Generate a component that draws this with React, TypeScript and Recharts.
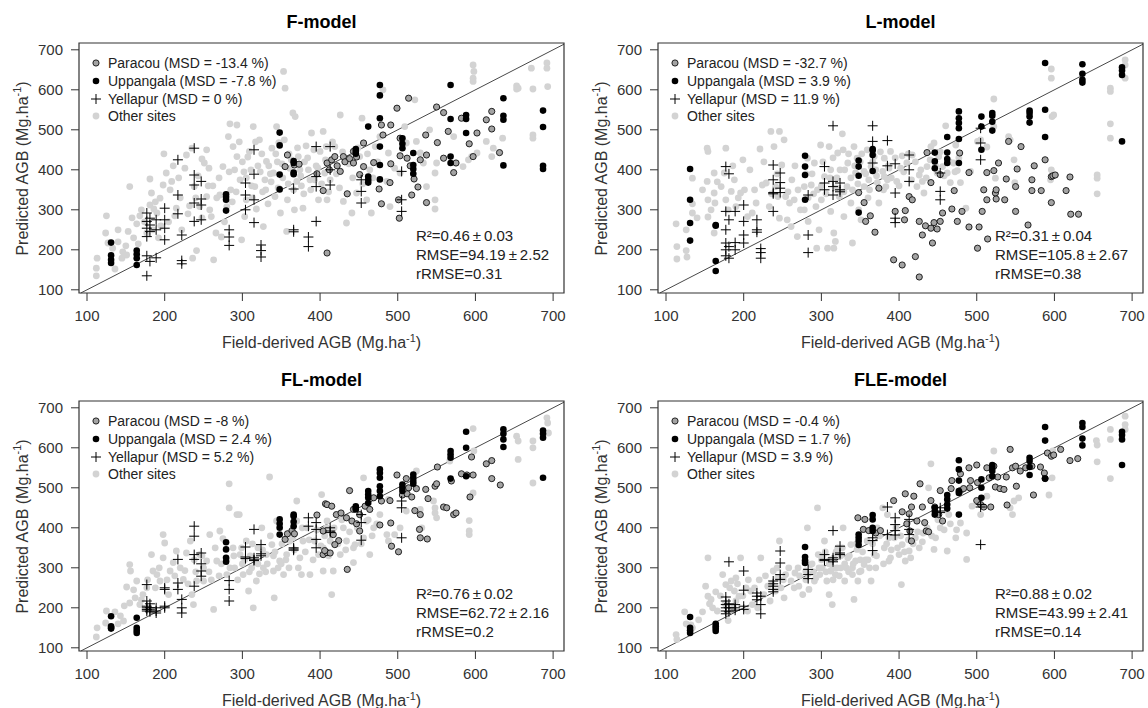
import { ScatterChart, Scatter, XAxis, YAxis, ReferenceLine, ReferenceArea } from "recharts";

const FONT = '"Liberation Sans", Arial, Helvetica, sans-serif';
const X_DOMAIN: [number, number] = [89.7, 714];
const Y_DOMAIN: [number, number] = [92, 717];
const TICKS = [100, 200, 300, 400, 500, 600, 700];

const titles = ["F-model", "L-model", "FL-model", "FLE-model"];
const paracouMsd = ["-13.4", "-32.7", "-8", "-0.4"];
const uppangalaMsd = ["-7.8", "3.9", "2.4", "1.7"];
const yellapurMsd = ["0", "11.9", "5.2", "3.9"];
const r2 = ["0.46", "0.31", "0.76", "0.88"];
const r2Sd = ["0.03", "0.04", "0.02", "0.02"];
const rmse = ["94.19", "105.8", "62.72", "43.99"];
const rmseSd = ["2.52", "2.67", "2.16", "2.41"];
const rrmse = ["0.31", "0.38", "0.2", "0.14"];

// Uppangala plots: field AGB (shared) and predicted AGB per model
const uppX = [131,131,131,131, 164,164,164,164, 279,279,279,279, 348,348,348,348, 366,366,366,366, 446,446,446, 462,462,462,462, 477,477,477,477,477,477, 506,506,506, 520,520,520,520, 568,568,568,568, 588,588,588, 636,636,636,636, 687,687,687,687];
const uppF = [218,186,175,167, 198,189,179,162, 339,332,325,298, 493,461,388,351, 422,417,393,389, 452,446,440, 508,383,375,368, 612,586,529,458,412,376, 479,465,454, 442,412,402,390, 612,527,433,417, 537,527,492, 579,535,525,411, 548,507,410,402];
const uppL = [402,325,267,223, 262,260,172,147, 435,408,387,325, 423,408,385,293, 452,448,437,397, 443,421,404, 482,443,427,417, 546,529,517,504,477,417, 533,508,450, 542,535,520,498, 548,542,533,518, 667,550,482, 664,640,625,618, 656,648,637,471];
const uppFL = [179,154,150,148, 175,150,143,137, 364,346,325,315, 421,410,400,383, 433,429,415,404, 454,450,446, 492,483,475,462, 546,537,525,504,492,479, 508,500,492, 533,525,517,510, 592,583,575,523, 640,600,529, 646,635,621,602, 643,635,625,525];
const uppFLE = [177,150,143,137, 160,154,148,142, 352,327,318,312, 383,375,367,357, 432,421,400,392, 450,442,433, 482,471,458,448, 569,546,518,492,487,433, 521,500,475, 557,550,542,529, 575,567,552,532, 652,618,523, 662,652,623,606, 640,632,621,557];

// Yellapur plots
const yelX = [177,177,177,177,177,177, 181,181,181,181, 189,189,189, 200,200,200,200, 217,217,217, 222,222,222, 238,238,238,238,238, 247,247,247,247, 283,283,283, 304,304,304, 315,315,315,315, 324,324,324, 366,366,366, 385,385, 395,395,395,395, 413,413,413, 453,453,453, 505,505,505];
const yelF = [292,271,254,233,185,135, 279,262,246,171, 275,250,180, 304,275,254,225, 425,337,290, 237,173,165, 454,387,362,317,271, 371,327,312,275, 250,232,211, 367,337,300, 450,389,325,268, 212,198,182, 352,250,245, 232,208, 458,383,358,271, 458,400,362, 375,346,317, 396,325,296];
const yelL = [408,296,250,217,200,185, 390,275,208,179, 296,218,200, 312,271,237,217, 275,250,244, 203,193,179, 412,375,343,340,296, 392,368,354,343, 337,237,193, 408,367,350, 510,371,358,337, 367,350,345, 510,471,417, 473,410, 415,342,279,268, 437,400,371, 392,346,325, 504,467,425];
const yelFL = [258,217,204,200,196,192, 210,200,195,190, 200,192,187, 250,246,204,200, 321,262,246, 221,200,187, 404,379,333,321,254, 337,310,292,279, 268,246,217, 352,327,323, 396,325,318,320, 358,335,330, 350,344,347, 425,404, 413,396,371,350, 400,392,388, 433,413,369, 467,450,375];
const yelFLE = [227,217,208,200,192,185, 315,210,200,190, 208,200,194, 292,244,204,196, 237,229,220, 229,208,185, 267,260,254,246,240, 342,312,283,271, 296,283,273, 333,321,318, 393,325,320,315, 354,337,333, 375,368,343, 452,383, 425,408,393,382, 421,396,383, 450,442,438, 458,452,358];

// Paracou plots [field, predicted]
const parF = [[355,408],[358,437],[367,412],[373,414],[396,390],[404,348],[409,417],[409,192],[412,400],[415,425],[419,433],[422,410],[426,396],[430,433],[432,420],[435,340],[438,428],[443,446],[443,417],[447,432],[451,388],[456,408],[456,467],[469,418],[476,352],[479,512],[479,315],[481,487],[490,368],[491,512],[491,415],[499,554],[501,325],[502,279],[503,479],[503,435],[512,429],[514,579],[516,410],[518,337],[521,377],[526,357],[529,425],[536,487],[537,437],[537,318],[550,557],[551,468],[559,543],[559,429],[565,496],[572,393],[575,417],[582,529],[592,465],[597,433],[602,492],[614,525],[621,546],[621,502],[631,443]];
const parL = [[348,343],[355,318],[357,271],[363,285],[369,244],[374,354],[393,175],[395,296],[404,162],[407,275],[408,298],[413,333],[417,325],[421,183],[426,132],[426,271],[430,237],[434,260],[436,443],[441,254],[441,368],[443,217],[445,268],[449,252],[453,271],[453,388],[456,292],[468,302],[471,348],[475,271],[478,442],[481,296],[490,393],[490,257],[501,204],[503,257],[507,296],[509,350],[513,393],[513,325],[514,227],[522,398],[524,342],[525,350],[525,327],[528,417],[536,325],[538,377],[541,471],[550,358],[550,296],[552,402],[557,458],[566,262],[571,375],[571,348],[574,410],[583,348],[588,425],[596,383],[596,318],[598,385],[601,387],[615,348],[620,382],[621,289],[631,289]];
const parFL = [[355,371],[358,385],[364,393],[367,385],[396,432],[404,333],[407,460],[409,338],[404,392],[409,458],[415,454],[421,433],[417,383],[424,368],[419,358],[413,337],[406,343],[427,437],[434,425],[435,296],[438,493],[441,417],[443,446],[447,410],[451,392],[451,433],[458,454],[464,446],[469,475],[477,407],[479,467],[490,468],[491,412],[492,354],[501,340],[499,532],[506,482],[511,523],[514,500],[512,485],[518,477],[522,443],[524,498],[529,375],[528,396],[529,433],[536,496],[538,372],[539,473],[548,504],[550,510],[551,552],[559,452],[563,450],[569,517],[572,433],[575,437],[582,535],[589,532],[597,532],[595,577],[593,477],[614,560],[621,568],[621,523],[632,507]];
const parFLE = [[347,425],[356,421],[354,396],[361,393],[370,387],[376,393],[393,468],[408,485],[419,479],[427,510],[430,452],[416,452],[404,440],[413,435],[423,417],[410,410],[416,367],[414,392],[433,413],[435,392],[438,390],[441,468],[446,452],[453,493],[451,433],[456,417],[467,498],[468,518],[479,535],[479,493],[483,498],[490,550],[491,500],[492,518],[500,557],[501,513],[500,468],[505,458],[509,452],[513,550],[518,452],[516,525],[522,554],[524,502],[527,527],[530,498],[535,496],[538,527],[539,457],[543,596],[546,550],[550,554],[551,504],[556,542],[563,550],[571,554],[582,552],[587,537],[588,523],[573,482],[591,587],[596,579],[599,582],[608,596],[620,568],[630,573]];

// Other sites [field, predicted]
const otherF = [[125,285],[112,135],[112,154],[113,179],[124,242],[127,217],[133,204],[136,152],[140,220],[140,250],[145,179],[146,195],[150,210],[151,187],[153,246],[155,358],[158,280],[160,230],[164,265],[166,215],[168,285],[170,300],[174,270],[177,242],[181,377],[183,342],[181,312],[185,250],[186,302],[188,320],[190,292],[192,230],[194,329],[195,260],[198,362],[199,440],[202,392],[205,270],[207,350],[209,371],[211,410],[213,285],[215,304],[218,380],[220,330],[222,250],[226,404],[228,437],[230,290],[232,310],[235,454],[238,358],[240,330],[241,198],[236,179],[243,385],[245,308],[248,280],[248,427],[251,417],[254,450],[257,404],[254,333],[256,360],[258,300],[260,283],[262,360],[263,175],[266,242],[267,330],[270,380],[271,337],[273,232],[275,408],[277,270],[280,308],[282,483],[283,395],[284,515],[285,350],[287,320],[288,458],[290,400],[292,345],[293,512],[293,433],[296,470],[297,375],[299,225],[300,420],[302,395],[303,283],[305,325],[305,380],[307,432],[309,446],[311,400],[312,360],[313,330],[314,508],[316,358],[317,470],[318,302],[320,410],[322,475],[323,395],[325,440],[326,345],[327,258],[329,375],[330,350],[331,421],[333,315],[334,410],[336,390],[337,370],[338,454],[340,392],[342,333],[343,440],[344,508],[345,420],[346,355],[347,468],[349,292],[351,415],[352,380],[353,646],[354,475],[355,604],[357,246],[358,325],[359,365],[360,440],[361,404],[363,425],[365,542],[366,350],[367,300],[368,533],[370,371],[371,455],[372,433],[374,400],[375,385],[376,360],[378,304],[379,340],[380,420],[382,460],[384,430],[385,400],[387,375],[388,350],[389,492],[392,450],[393,375],[395,410],[397,405],[398,325],[400,446],[402,365],[406,392],[407,425],[408,458],[404,496],[409,325],[411,345],[413,375],[416,470],[419,458],[421,390],[425,355],[426,537],[429,445],[430,321],[434,267],[437,415],[441,292],[442,380],[447,342],[449,455],[451,433],[454,529],[455,365],[460,325],[461,440],[464,400],[466,292],[468,380],[471,458],[474,420],[477,483],[481,600],[486,371],[488,442],[490,308],[496,404],[503,392],[509,508],[511,467],[522,575],[524,471],[529,442],[533,417],[537,358],[541,500],[548,392],[548,325],[548,302],[550,417],[572,483],[584,408],[591,425],[597,662],[598,646],[597,629],[597,621],[595,433],[602,442],[614,471],[621,433],[623,454],[635,479],[653,602],[653,610],[655,604],[672,654],[674,602],[674,487],[674,479],[692,667],[692,654],[693,608]];
const otherL = [[113,265],[114,208],[114,177],[126,250],[126,198],[127,182],[134,315],[134,292],[134,379],[140,280],[147,350],[153,454],[154,446],[153,371],[154,325],[154,282],[158,300],[162,392],[162,342],[163,317],[162,242],[166,370],[171,358],[175,392],[177,454],[177,325],[180,300],[184,346],[186,410],[188,375],[190,308],[193,330],[196,342],[199,425],[201,350],[205,283],[208,400],[211,292],[214,350],[216,317],[221,452],[224,362],[226,420],[229,367],[233,308],[235,496],[236,340],[239,458],[241,358],[243,390],[244,333],[246,279],[246,496],[249,412],[252,475],[254,333],[257,345],[259,317],[256,275],[261,258],[262,375],[265,325],[266,410],[269,233],[270,350],[273,300],[278,300],[278,358],[280,390],[282,429],[283,271],[283,330],[287,362],[288,390],[290,340],[291,417],[293,308],[294,204],[295,350],[297,250],[299,462],[300,325],[300,360],[302,420],[304,383],[306,340],[308,204],[310,458],[311,380],[312,400],[312,296],[315,430],[316,242],[318,221],[316,204],[319,355],[320,380],[321,442],[323,333],[324,400],[327,490],[328,450],[329,283],[329,345],[330,400],[333,358],[334,417],[335,440],[338,317],[338,380],[340,217],[340,350],[342,458],[343,410],[344,392],[346,429],[347,365],[348,300],[350,420],[351,275],[352,440],[355,396],[355,358],[357,390],[359,450],[360,330],[361,375],[362,350],[364,408],[366,420],[368,433],[370,400],[371,385],[372,368],[374,317],[376,445],[379,396],[380,350],[381,429],[385,375],[386,410],[387,404],[381,383],[383,358],[389,446],[390,380],[395,430],[397,371],[400,360],[402,404],[404,435],[406,395],[410,417],[412,440],[416,375],[417,437],[421,420],[423,358],[426,387],[428,400],[430,371],[432,342],[435,380],[436,408],[440,425],[441,458],[445,467],[447,410],[449,392],[451,433],[453,445],[456,408],[458,385],[460,510],[462,392],[465,420],[466,368],[470,417],[472,395],[473,462],[475,398],[477,430],[479,368],[486,304],[492,396],[501,471],[505,475],[513,457],[522,577],[522,508],[524,379],[541,483],[543,475],[548,425],[549,368],[595,375],[596,400],[597,533],[599,537],[596,652],[596,629],[655,387],[655,379],[655,340],[672,604],[672,596],[672,515],[672,479],[691,675],[691,662],[691,629]];
const otherFL = [[112,127],[113,150],[124,162],[125,192],[136,190],[140,160],[143,180],[147,167],[148,205],[151,252],[155,212],[155,308],[156,292],[160,245],[162,225],[164,267],[168,208],[170,220],[172,233],[177,250],[178,270],[183,333],[185,292],[188,250],[190,283],[193,300],[194,267],[198,325],[198,383],[200,362],[203,270],[205,233],[207,292],[211,313],[213,280],[215,342],[220,300],[224,271],[226,293],[228,337],[230,260],[233,367],[235,233],[237,208],[238,320],[240,290],[241,267],[245,333],[248,330],[250,267],[250,300],[254,317],[257,290],[258,383],[260,270],[263,196],[265,350],[267,317],[270,280],[271,392],[273,310],[275,373],[280,283],[280,320],[283,510],[283,450],[284,300],[288,350],[289,330],[290,300],[293,433],[294,270],[296,433],[297,333],[299,350],[300,310],[301,283],[303,320],[305,367],[308,242],[309,290],[310,330],[312,300],[313,360],[314,200],[317,320],[318,267],[320,310],[320,350],[322,285],[325,400],[326,345],[327,300],[330,290],[331,333],[332,310],[335,527],[336,380],[338,358],[340,292],[340,330],[341,225],[342,340],[344,417],[346,300],[348,317],[350,310],[351,360],[353,283],[356,320],[357,333],[360,300],[361,367],[362,390],[365,375],[367,345],[370,467],[370,417],[372,300],[374,325],[376,283],[377,400],[378,367],[381,340],[383,400],[386,370],[387,283],[391,320],[393,367],[396,395],[398,333],[401,355],[402,483],[404,292],[406,380],[408,400],[404,350],[409,417],[411,330],[413,367],[417,292],[415,233],[418,400],[423,360],[426,333],[428,420],[430,400],[433,345],[434,367],[438,390],[443,313],[443,350],[445,358],[448,400],[453,360],[456,525],[456,375],[460,417],[462,420],[464,333],[467,380],[469,400],[473,410],[477,433],[486,383],[488,367],[488,471],[496,383],[503,400],[511,442],[524,542],[529,446],[531,400],[546,467],[548,450],[548,437],[550,425],[567,567],[592,418],[592,392],[592,383],[597,648],[598,592],[597,487],[653,629],[655,617],[655,571],[674,617],[674,600],[674,512],[692,675],[693,662],[694,637]];
const otherFLE = [[113,133],[114,121],[124,190],[126,160],[132,157],[134,150],[142,170],[147,190],[151,254],[154,229],[154,325],[156,210],[158,221],[160,200],[164,240],[166,192],[170,230],[173,283],[176,210],[177,258],[180,168],[182,250],[184,267],[187,200],[188,242],[190,275],[190,217],[192,260],[194,229],[196,325],[199,230],[203,250],[205,192],[206,270],[209,242],[211,208],[214,250],[218,200],[220,270],[222,325],[226,233],[228,280],[231,254],[234,217],[236,260],[238,292],[241,242],[243,300],[244,275],[246,367],[248,250],[251,270],[252,225],[254,283],[258,300],[261,267],[265,250],[266,287],[270,300],[271,254],[272,280],[276,233],[280,270],[280,292],[282,400],[283,285],[284,246],[286,308],[288,310],[290,290],[291,267],[293,275],[295,450],[296,333],[297,300],[298,283],[300,320],[301,300],[302,330],[304,367],[305,340],[306,290],[307,267],[310,233],[310,310],[311,320],[312,292],[314,208],[315,270],[315,300],[316,325],[318,283],[319,340],[320,300],[321,350],[323,280],[325,300],[325,330],[327,350],[328,400],[330,267],[330,310],[332,300],[334,325],[335,290],[336,330],[338,358],[340,283],[340,300],[341,310],[342,221],[344,317],[345,360],[346,346],[347,267],[349,290],[350,320],[351,292],[353,340],[355,308],[357,320],[359,367],[360,320],[362,300],[364,267],[366,360],[368,333],[370,300],[371,330],[372,400],[375,380],[379,450],[380,310],[381,350],[384,360],[385,433],[387,317],[387,375],[389,325],[390,345],[394,375],[396,400],[398,350],[400,333],[402,380],[403,258],[404,358],[407,340],[408,317],[412,370],[413,342],[415,325],[418,360],[421,375],[424,390],[426,350],[430,365],[431,387],[436,400],[441,560],[438,500],[442,380],[445,346],[447,375],[450,420],[453,400],[458,395],[462,342],[464,433],[466,410],[473,375],[474,395],[479,412],[487,387],[487,321],[494,454],[505,433],[513,479],[522,592],[543,450],[546,433],[548,467],[554,475],[593,482],[597,525],[598,592],[654,618],[655,607],[655,565],[672,646],[672,621],[672,523],[691,679],[691,658],[691,646]];

const zipXY = (xs: number[], ys: number[]) => xs.map((x, i) => ({ x, y: ys[i] }));
const fromPairs = (p: number[][]) => p.map(([x, y]) => ({ x, y }));

const panels = [
  { left: 0, top: 0, other: otherF, par: parF, upp: uppF, yel: yelF },
  { left: 579, top: 0, other: otherL, par: parL, upp: uppL, yel: yelL },
  { left: 0, top: 358, other: otherFL, par: parFL, upp: uppFL, yel: yelFL },
  { left: 579, top: 358, other: otherFLE, par: parFLE, upp: uppFLE, yel: yelFLE },
];

const OtherDot = (p: any) => (p.cx == null ? null : <circle cx={p.cx} cy={p.cy} r={3.4} fill="#d3d3d3" />);
const ParacouDot = (p: any) =>
  p.cx == null ? null : <circle cx={p.cx} cy={p.cy} r={3.1} fill="#a3a3a3" stroke="#111" strokeWidth={0.9} />;
const UppDot = (p: any) => (p.cx == null ? null : <circle cx={p.cx} cy={p.cy} r={3.3} fill="#000" />);
const Plus = (p: any) =>
  p.cx == null ? null : (
    <path d={`M${p.cx - 5},${p.cy}h10M${p.cx},${p.cy - 5}v10`} stroke="#000" strokeWidth={1} fill="none" />
  );

const legendMarkers = [
  <circle cx={6} cy={6} r={3.1} fill="#a3a3a3" stroke="#111" strokeWidth={0.9} />,
  <circle cx={6} cy={6} r={3.3} fill="#000" />,
  <path d="M1,6h10M6,1v10" stroke="#000" strokeWidth={1} />,
  <circle cx={6} cy={6} r={3.4} fill="#d3d3d3" />,
];

function Panel({ idx }: { idx: number }) {
  const p = panels[idx];
  const legendText = [
    `Paracou (MSD = ${paracouMsd[idx]} %)`,
    `Uppangala (MSD = ${uppangalaMsd[idx]} %)`,
    `Yellapur (MSD = ${yellapurMsd[idx]} %)`,
    "Other sites",
  ];
  const pm = "\u2009\u00b1\u2009";
  const stats = [`R²=${r2[idx]}${pm}${r2Sd[idx]}`, `RMSE=${rmse[idx]}${pm}${rmseSd[idx]}`, `rRMSE=${rrmse[idx]}`];
  return (
    <div style={{ position: "absolute", left: p.left, top: p.top, width: 574, height: 354 }}>
      <ScatterChart width={574} height={354} margin={{ top: 43, right: 10, bottom: 21, left: 0 }}>
        <XAxis
          type="number"
          dataKey="x"
          domain={X_DOMAIN}
          ticks={TICKS}
          interval={0}
          allowDataOverflow
          axisLine={false}
          tickSize={8}
          tickMargin={9}
          tickLine={{ stroke: "#333" }}
          tick={{ fill: "#333", fontSize: 15, fontFamily: FONT }}
          height={40}
        />
        <YAxis
          type="number"
          dataKey="y"
          domain={Y_DOMAIN}
          ticks={TICKS}
          interval={0}
          allowDataOverflow
          axisLine={false}
          tickSize={8}
          tickMargin={8}
          tickLine={{ stroke: "#333" }}
          tick={{ fill: "#333", fontSize: 15, fontFamily: FONT }}
          width={79}
        />
        <ReferenceLine
          segment={[
            { x: 92, y: 92 },
            { x: 714, y: 714 },
          ]}
          stroke="#333"
          strokeWidth={0.9}
        />
        <Scatter data={fromPairs(p.other)} shape={OtherDot} isAnimationActive={false} />
        <Scatter data={fromPairs(p.par)} shape={ParacouDot} isAnimationActive={false} />
        <Scatter data={zipXY(uppX, p.upp)} shape={UppDot} isAnimationActive={false} />
        <Scatter data={zipXY(yelX, p.yel)} shape={Plus} isAnimationActive={false} />
        <ReferenceArea x1={X_DOMAIN[0]} x2={X_DOMAIN[1]} y1={Y_DOMAIN[0]} y2={Y_DOMAIN[1]} fill="none" stroke="#333" strokeWidth={1.2} />
      </ScatterChart>

      <div style={{ position: "absolute", left: 79, top: 12, width: 485, textAlign: "center", fontFamily: FONT, fontWeight: "bold", fontSize: 18, lineHeight: "21px", color: "#000" }}>
        {titles[idx]}
      </div>
      <div style={{ position: "absolute", left: 79, top: 333, width: 485, textAlign: "center", fontFamily: FONT, fontSize: 16, lineHeight: "19px", color: "#333" }}>
        Field-derived AGB (Mg.ha<sup style={{ fontSize: "0.68em", lineHeight: 0 }}>-1</sup>)
      </div>
      <div style={{ position: "absolute", left: 22 - 125, top: 168 - 9, width: 250, height: 19, textAlign: "center", fontFamily: FONT, fontSize: 16, lineHeight: "19px", color: "#333", transform: "rotate(-90deg)", whiteSpace: "nowrap" }}>
        Predicted AGB (Mg.ha<sup style={{ fontSize: "0.68em", lineHeight: 0 }}>-1</sup>)
      </div>

      {legendText.map((t, i) => (
        <div key={t} style={{ position: "absolute", left: 90, top: 63 + i * 17.8 - 9, height: 18, display: "flex", alignItems: "center", fontFamily: FONT, fontSize: 14, color: "#222", whiteSpace: "nowrap" }}>
          <svg width={12} height={12} style={{ marginRight: 6 }}>
            {legendMarkers[i]}
          </svg>
          {t}
        </div>
      ))}

      {stats.map((t, i) => (
        <div key={t} style={{ position: "absolute", left: 416, top: 236 + i * 19 - 9, height: 18, lineHeight: "18px", fontFamily: FONT, fontSize: 15, color: "#222", whiteSpace: "nowrap" }}>
          {t}
        </div>
      ))}
    </div>
  );
}

export default function App() {
  return (
    <div style={{ position: "absolute", left: 0, top: 0, width: 1148, height: 708, background: "#fff", overflow: "hidden" }}>
      {panels.map((_, i) => (
        <Panel key={i} idx={i} />
      ))}
    </div>
  );
}
